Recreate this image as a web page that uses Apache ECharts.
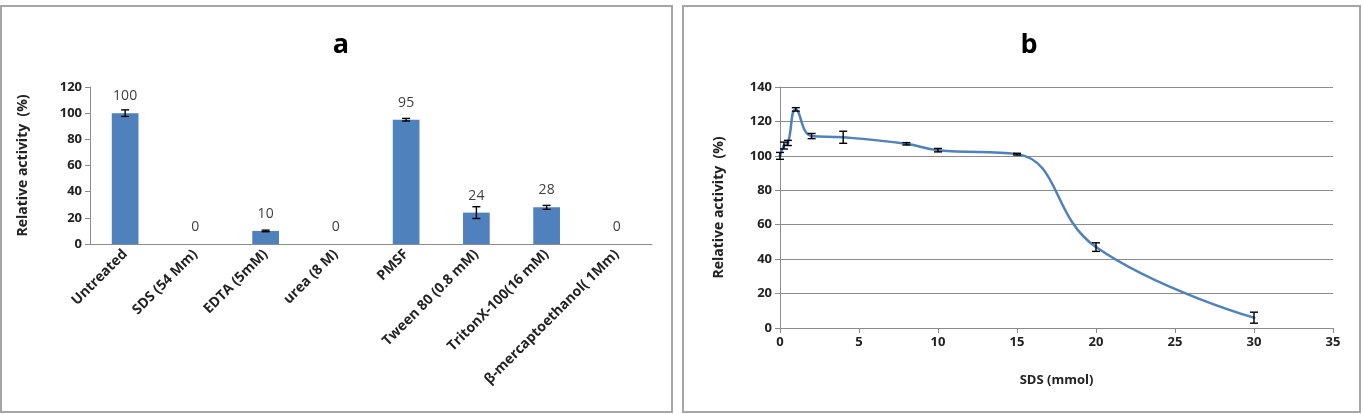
<!DOCTYPE html>
<html>
<head>
<meta charset="utf-8">
<script src="https://cdn.jsdelivr.net/npm/echarts@6/dist/echarts.min.js"></script>
<style>
  html, body { margin: 0; padding: 0; background: #fff; }
  #chart { width: 1363px; height: 414px; }
</style>
</head>
<body>
<div id="chart"></div>
<script>
// panel a: treatments
const treatments = ["Untreated", "SDS (54 Mm)", "EDTA (5mM)", "urea (8 M)", "PMSF",
  "Tween 80 (0.8 mM)", "TritonX-100(16 mM)", "β-mercaptoethanol( 1Mm)"];
const treatActivity = [100, 0, 10, 0, 95, 24, 28, 0];
const treatError = [2.5, 0, 0.6, 0, 1, 4.5, 1.5, 0];

// panel b: SDS concentration
const sdsConc = [0, 0.25, 0.5, 1, 2, 4, 8, 10, 15, 20, 30];
const sdsActivity = [100, 106, 107.5, 127, 111.5, 110.8, 107, 103.3, 101, 47, 6];
const sdsError = [2, 2, 1.5, 1, 1.5, 3.5, 0.7, 1, 0.5, 2.5, 3.2];

const blue = "#4F81BD";
const axisGray = "#8c8c8c";
const font = "'Open Sans', Lato, sans-serif";

function errorBars(xIndex, yIndex, data) {
  return {
    type: "custom",
    xAxisIndex: xIndex,
    yAxisIndex: yIndex,
    z: 10,
    silent: true,
    data: data,
    renderItem: function (params, api) {
      const lo = api.coord([api.value(0), api.value(1)]);
      const hi = api.coord([api.value(0), api.value(2)]);
      const w = 4;
      const style = { stroke: "#000", lineWidth: 1.4 };
      return {
        type: "group",
        children: [
          { type: "line", shape: { x1: lo[0], y1: lo[1], x2: hi[0], y2: hi[1] }, style: style },
          { type: "line", shape: { x1: lo[0] - w, y1: lo[1], x2: lo[0] + w, y2: lo[1] }, style: style },
          { type: "line", shape: { x1: hi[0] - w, y1: hi[1], x2: hi[0] + w, y2: hi[1] }, style: style }
        ]
      };
    }
  };
}

const errA = treatments.map((c, i) => [i, treatActivity[i] - treatError[i], treatActivity[i] + treatError[i]])
  .filter((d, i) => treatError[i] > 0);
const errB = sdsConc.map((x, i) => [x, sdsActivity[i] - sdsError[i], sdsActivity[i] + sdsError[i]]);

const tickText = { fontSize: 13, fontWeight: "bold", color: "#222", fontFamily: font };
const nameText = { fontSize: 14, fontWeight: "bold", color: "#222", fontFamily: font };

const chart = echarts.init(document.getElementById("chart"));
chart.setOption({
  animation: false,
  backgroundColor: "#fff",
  textStyle: { fontFamily: font },
  graphic: [
    { type: "rect", shape: { x: 1, y: 6, width: 671, height: 406 },
      style: { fill: "none", stroke: "#a6a6a6", lineWidth: 2 } },
    { type: "rect", shape: { x: 683, y: 6, width: 677, height: 406 },
      style: { fill: "none", stroke: "#a6a6a6", lineWidth: 2 } }
  ],
  title: [
    { text: "a", left: 336, top: 27, textAlign: "center",
      textStyle: { fontFamily: font, fontSize: 27, fontWeight: "bold", color: "#000" } },
    { text: "b", left: 1024, top: 27, textAlign: "center",
      textStyle: { fontFamily: font, fontSize: 27, fontWeight: "bold", color: "#000" } }
  ],
  grid: [
    { left: 90, right: 711, top: 87, bottom: 170 },
    { left: 780, right: 30, top: 87, bottom: 86 }
  ],
  xAxis: [
    {
      type: "category", gridIndex: 0, data: treatments,
      axisLine: { lineStyle: { color: axisGray } },
      axisTick: { lineStyle: { color: axisGray } },
      axisLabel: Object.assign({ rotate: 45, interval: 0, margin: 8 }, tickText, { fontSize: 14 })
    },
    {
      type: "value", gridIndex: 1, min: 0, max: 35, interval: 5,
      name: "SDS (mmol)", nameLocation: "middle", nameGap: 46,
      nameTextStyle: Object.assign({}, nameText, { fontSize: 13 }),
      splitLine: { show: false },
      axisLine: { lineStyle: { color: axisGray } },
      axisTick: { show: true, lineStyle: { color: axisGray } },
      axisLabel: tickText
    }
  ],
  yAxis: [
    {
      type: "value", gridIndex: 0, min: 0, max: 120, interval: 20,
      name: "Relative activity  (%)", nameLocation: "middle", nameGap: 60,
      nameTextStyle: nameText,
      splitLine: { show: false },
      axisLine: { show: true, lineStyle: { color: axisGray } },
      axisTick: { show: true, lineStyle: { color: axisGray } },
      axisLabel: tickText
    },
    {
      type: "value", gridIndex: 1, min: 0, max: 140, interval: 20,
      name: "Relative activity  (%)", nameLocation: "middle", nameGap: 54,
      nameTextStyle: nameText,
      splitLine: { show: true, lineStyle: { color: "#8c8c8c", width: 1.2 } },
      axisLine: { show: true, lineStyle: { color: axisGray } },
      axisTick: { show: true, lineStyle: { color: axisGray } },
      axisLabel: tickText
    }
  ],
  series: [
    {
      type: "bar", xAxisIndex: 0, yAxisIndex: 0, data: treatActivity,
      barWidth: "38%",
      itemStyle: { color: blue },
      label: { show: true, position: "top", distance: 10, fontSize: 14, color: "#404040", fontFamily: font }
    },
    errorBars(0, 0, errA),
    {
      type: "line", xAxisIndex: 1, yAxisIndex: 1,
      data: sdsConc.map((x, i) => [x, sdsActivity[i]]),
      smooth: 0.45,
      symbol: "circle", symbolSize: 3,
      itemStyle: { color: blue },
      lineStyle: { color: blue, width: 2.5 }
    },
    errorBars(1, 1, errB)
  ]
});
</script>
</body>
</html>
